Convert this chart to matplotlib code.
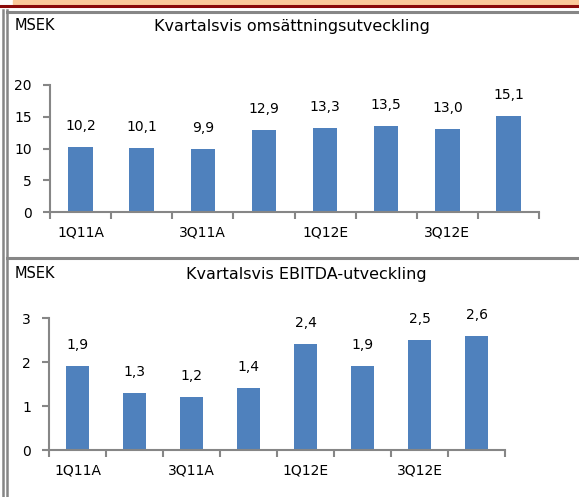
import matplotlib
matplotlib.use("Agg")
import matplotlib.pyplot as plt
from matplotlib.patches import Rectangle
from matplotlib.lines import Line2D

# Data
quarters = ["1Q11A", "2Q11A", "3Q11A", "4Q11A", "1Q12E", "2Q12E", "3Q12E", "4Q12E"]
sales = [10.2, 10.1, 9.9, 12.9, 13.3, 13.5, 13.0, 15.1]
ebitda = [1.9, 1.3, 1.2, 1.4, 2.4, 1.9, 2.5, 2.6]
sales_title = "Kvartalsvis omsättningsutveckling"
ebitda_title = "Kvartalsvis EBITDA-utveckling"
unit = "MSEK"

W, H = 579, 497
BAR = "#4F81BD"
GREY = "#868686"

plt.rcParams["font.family"] = "DejaVu Sans"
fig = plt.figure(figsize=(W / 100, H / 100), dpi=100)


def px_axes(x0, x1, ytop, ybot):
    return fig.add_axes([x0 / W, 1 - ybot / H, (x1 - x0) / W, (ybot - ytop) / H])


def fmt(v):
    return f"{v:.1f}".replace(".", ",")


def bar_panel(ax, values, ymax, step):
    n = len(values)
    xs = list(range(n))
    ax.bar(xs, values, width=0.4, color=BAR, zorder=2)
    for x, v in zip(xs, values):
        ax.annotate(fmt(v), (x, v), xytext=(0, 21), textcoords="offset pixels",
                    ha="center", va="center", fontsize=10)
    ax.set_xlim(-0.5, n - 0.5)
    ax.set_ylim(0, ymax)
    ax.set_yticks([i * step for i in range(int(ymax / step) + 1)])
    ax.set_yticklabels([str(int(i * step)) for i in range(int(ymax / step) + 1)])
    # boundary ticks (no labels), labels on every other bar
    ax.set_xticks([i - 0.5 for i in range(n + 1)])
    ax.set_xticklabels([])
    ax.set_xticks(xs[::2], minor=True)
    ax.set_xticklabels(quarters[::2], minor=True)
    ax.tick_params(axis="x", which="major", length=5, width=1.5, color=GREY)
    ax.tick_params(axis="x", which="minor", length=0, pad=10, labelsize=10)
    ax.tick_params(axis="y", length=5, width=1.5, color=GREY, pad=8, labelsize=10)
    for s in ["top", "right"]:
        ax.spines[s].set_visible(False)
    for s in ["left", "bottom"]:
        ax.spines[s].set_color(GREY)
        ax.spines[s].set_linewidth(1.5)
    ax.patch.set_alpha(0)


ax1 = px_axes(50, 539, 85, 212)
bar_panel(ax1, sales, 20, 5)
ax2 = px_axes(49, 505, 318, 450)
bar_panel(ax2, ebitda, 3, 1)

# titles and unit labels
fig.text(15 / W, 1 - 25 / H, unit, fontsize=10.5, va="center", ha="left")
fig.text(292 / W, 1 - 27 / H, sales_title, fontsize=11.5, va="center", ha="center")
fig.text(15 / W, 1 - 273 / H, unit, fontsize=10.5, va="center", ha="left")
fig.text(306 / W, 1 - 275 / H, ebitda_title, fontsize=11.5, va="center", ha="center")

# page decoration: header band, panel frames
fig.patches.append(Rectangle((13 / W, 1 - 4 / H), 1, 4 / H, transform=fig.transFigure,
                             color="#FBC99A", zorder=0))
fig.lines.append(Line2D([0, 1], [1 - 5.5 / H] * 2, transform=fig.transFigure,
                        color="#8B0A0A", lw=2.2))
for y in [11.5, 258]:
    fig.lines.append(Line2D([7 / W, 1], [1 - y / H] * 2, transform=fig.transFigure,
                            color=GREY, lw=2.2))
for x in [2.5, 7]:
    fig.lines.append(Line2D([x / W] * 2, [0, 1 - 10 / H], transform=fig.transFigure,
                            color=GREY, lw=1.8))

fig.savefig("out.png", dpi=100)
